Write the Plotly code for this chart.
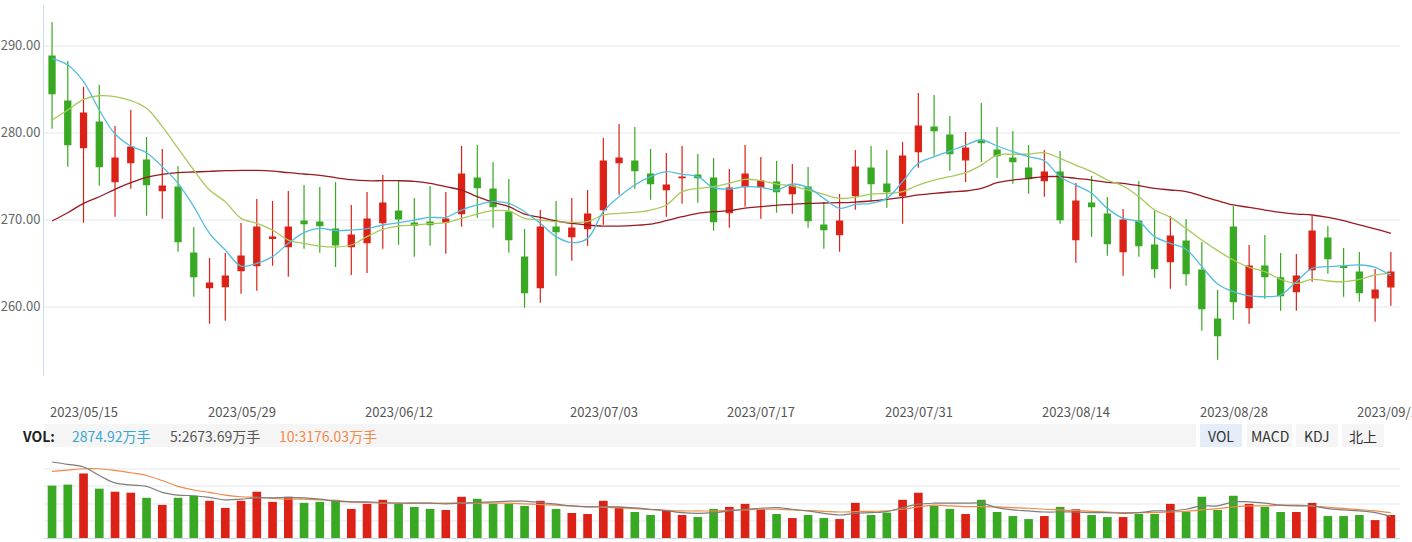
import plotly.graph_objects as go
import pandas as pd

W, H = 1412, 542

# ---------------- data ----------------
dates = [d.strftime("%Y/%m/%d") for d in pd.bdate_range("2023-05-15", "2023-09-13")
         if d.strftime("%m-%d") not in ("06-22", "06-23")]

opens = [288.81, 283.64, 278.28, 281.23, 274.37, 276.55, 276.86, 273.33, 273.75, 266.17,
         262.18, 262.30, 264.14, 264.71, 267.85, 266.90, 269.85, 269.73, 268.93, 266.90,
         267.36, 269.66, 271.00, 269.62, 269.73, 269.73, 270.69, 274.79, 273.52, 270.88,
         265.71, 262.18, 269.16, 268.05, 268.97, 271.15, 276.55, 276.74, 275.25, 273.45,
         274.83, 275.13, 274.79, 270.80, 273.79, 273.79, 274.33, 272.99, 273.75, 269.39,
         268.28, 272.76, 275.94, 274.10, 272.76, 277.82, 280.65, 279.73, 276.88, 279.16,
         278.01, 277.09, 275.94, 274.48, 275.48, 267.70, 271.92, 270.65, 266.32, 269.85,
         267.09, 265.17, 267.55, 264.21, 258.58, 269.16, 259.89, 264.67, 263.30, 261.72,
         264.25, 267.89, 264.60, 263.98, 261.02, 262.28]
closes = [284.48, 278.62, 282.26, 276.09, 277.09, 278.35, 274.02, 273.87, 267.47, 263.45,
          262.72, 263.52, 265.82, 269.16, 268.00, 269.16, 269.54, 269.31, 267.09, 268.24,
          270.08, 271.92, 270.08, 269.35, 269.43, 270.08, 275.25, 273.68, 271.49, 267.70,
          261.61, 269.16, 268.62, 269.04, 270.65, 276.74, 277.09, 275.63, 274.14, 273.98,
          274.90, 274.83, 269.77, 273.64, 275.25, 274.44, 273.22, 273.87, 269.89, 268.85,
          269.85, 276.05, 274.14, 273.22, 277.32, 280.77, 280.23, 277.59, 278.24, 278.85,
          277.36, 276.67, 274.71, 275.48, 270.00, 272.15, 271.49, 267.24, 269.96, 267.01,
          264.37, 268.12, 263.79, 259.77, 256.67, 260.57, 264.67, 263.45, 261.26, 263.52,
          268.70, 265.52, 264.52, 261.61, 261.90, 263.97]
highs = [292.72, 288.24, 285.29, 285.48, 280.77, 282.61, 279.50, 278.12, 276.17, 269.16,
         265.59, 266.17, 269.62, 272.38, 272.15, 273.30, 273.98, 273.75, 274.33, 271.69,
         273.18, 275.13, 274.52, 272.49, 273.87, 273.18, 278.47, 278.58, 276.63, 274.67,
         268.93, 271.11, 272.15, 272.49, 273.41, 279.39, 281.00, 280.65, 278.12, 277.66,
         278.47, 277.55, 277.09, 275.82, 278.58, 277.20, 276.74, 276.40, 276.05, 272.03,
         272.95, 278.01, 278.47, 278.01, 278.93, 284.56, 284.33, 281.92, 280.08, 283.41,
         280.65, 280.19, 278.58, 278.01, 277.89, 274.21, 275.02, 272.61, 271.23, 274.44,
         271.00, 270.42, 270.08, 267.43, 261.92, 271.57, 267.09, 268.24, 266.17, 266.05,
         270.42, 269.27, 266.74, 266.28, 264.33, 266.28]
lows = [280.46, 276.09, 269.66, 273.91, 270.34, 273.56, 270.46, 270.11, 266.32, 261.15,
        258.05, 258.39, 261.49, 261.84, 264.71, 263.45, 266.67, 266.21, 264.56, 263.64,
        263.87, 266.67, 267.13, 265.75, 267.01, 266.09, 269.20, 270.23, 269.08, 266.21,
        259.89, 260.46, 263.56, 265.29, 267.01, 269.43, 272.87, 273.56, 272.30, 270.34,
        271.84, 271.95, 268.74, 269.08, 271.49, 270.11, 270.80, 270.69, 269.08, 266.67,
        266.32, 271.15, 272.18, 271.38, 269.54, 275.98, 277.36, 275.63, 274.33, 276.63,
        274.79, 274.14, 272.99, 272.64, 269.54, 265.06, 268.05, 265.86, 263.56, 265.75,
        263.33, 262.07, 262.41, 257.24, 253.91, 258.51, 258.05, 260.92, 259.54, 259.54,
        262.87, 263.79, 261.15, 260.57, 258.28, 260.11]

ma5 = [288.51, 287.78, 285.86, 282.61, 279.85, 278.47, 277.70, 276.09, 274.18, 271.49,
       268.43, 266.51, 264.67, 264.98, 265.75, 267.28, 268.51, 269.00, 268.74, 268.81,
       268.97, 269.39, 269.66, 269.96, 270.27, 270.27, 271.11, 271.69, 272.07, 271.88,
       270.92, 269.58, 268.05, 267.36, 267.85, 270.92, 272.64, 273.98, 274.94, 275.52,
       275.21, 274.94, 273.68, 273.52, 273.79, 273.72, 273.41, 274.10, 273.68, 272.45,
       271.30, 271.76, 271.88, 272.45, 274.37, 276.48, 277.24, 277.89, 278.58, 279.16,
       278.47, 277.82, 277.24, 276.78, 274.94, 273.98, 273.03, 271.30, 270.15, 269.77,
       268.05, 267.28, 266.60, 264.60, 262.61, 261.72, 261.23, 261.15, 261.34, 262.87,
       264.41, 264.60, 264.71, 264.79, 264.52, 263.56]
ma10 = [281.46, 282.61, 283.83, 284.25, 284.14, 283.68, 282.80, 280.69, 278.20, 275.71,
        273.41, 272.07, 270.15, 269.58, 268.81, 267.66, 267.28, 266.97, 266.86, 267.09,
        268.05, 268.89, 269.27, 269.39, 269.54, 269.66, 270.15, 270.65, 271.03, 271.00,
        270.15, 269.96, 269.77, 269.69, 269.77, 270.54, 270.73, 270.84, 271.11, 271.69,
        273.22, 273.60, 273.79, 274.18, 274.64, 274.48, 274.10, 273.87, 273.41, 272.91,
        272.45, 272.57, 272.95, 273.03, 273.22, 273.98, 274.56, 274.94, 275.40, 276.28,
        277.43, 277.51, 277.55, 277.70, 277.05, 276.28, 275.52, 274.56, 273.87, 272.64,
        271.11, 270.27, 269.00, 267.66, 266.44, 265.36, 264.52, 264.02, 263.14, 262.68,
        263.14, 262.95, 262.87, 263.14, 263.64, 263.83]
ma30 = [269.85, 270.80, 271.88, 272.64, 273.49, 274.25, 274.87, 275.21, 275.40, 275.48,
        275.56, 275.63, 275.67, 275.67, 275.59, 275.40, 275.25, 275.10, 274.83, 274.60,
        274.48, 274.48, 274.48, 274.41, 274.18, 273.79, 273.41, 272.64, 271.99, 271.49,
        270.65, 270.27, 269.85, 269.58, 269.39, 269.27, 269.27, 269.35, 269.50, 269.89,
        270.34, 270.73, 270.92, 271.03, 271.34, 271.49, 271.65, 271.76, 271.88, 271.92,
        271.95, 272.03, 272.15, 272.34, 272.57, 272.84, 273.03, 273.18, 273.30, 273.60,
        274.25, 274.56, 274.75, 274.94, 274.94, 274.75, 274.56, 274.29, 274.18, 273.91,
        273.60, 273.41, 273.22, 272.72, 272.18, 271.69, 271.42, 271.11, 270.84, 270.65,
        270.54, 270.27, 269.89, 269.39, 268.93, 268.43]

# volume, 万手
vol = [6553, 6680, 8075, 6173, 5792, 5665, 5031, 4143, 5031, 5285,
       4650, 3763, 4650, 5792, 4524, 5158, 4397, 4524, 4778, 3636,
       4270, 4778, 4270, 3890, 3636, 3509, 5158, 4904, 4270, 4270,
       4016, 4650, 3636, 3129, 3002, 4650, 3890, 3256, 2875, 3382,
       2875, 2621, 3636, 3890, 4270, 3594, 3002, 2495, 2875, 2495,
       2368, 4397, 2875, 3171, 4778, 5665, 4016, 3636, 3002, 4778,
       3256, 2748, 2368, 2748, 3890, 3594, 2875, 2621, 2621, 3002,
       3002, 4270, 3298, 5158, 3509, 5285, 4270, 3890, 3256, 3256,
       4397, 2748, 2748, 2875, 2241, 2874.92]
vol_ma5 = [9513, 9217, 8879, 7822, 6892, 6638, 6469, 5708, 5370, 5285,
           5074, 4778, 4862, 5031, 5031, 5074, 5031, 4862, 4609, 4524,
           4524, 4439, 4355, 4355, 4355, 4270, 4355, 4439, 4524, 4609,
           4609, 4439, 4228, 4017, 3890, 3932, 3890, 3763, 3594, 3425,
           3171, 3086, 3171, 3382, 3594, 3721, 3805, 3594, 3382, 3086,
           2875, 3086, 3171, 3298, 3805, 4228, 4355, 4355, 4355, 4355,
           3805, 3509, 3382, 3256, 3256, 3256, 3171, 3171, 3086, 3171,
           3382, 3382, 3594, 4017, 4017, 4524, 4524, 4355, 4101, 4017,
           4017, 3678, 3509, 3382, 3171, 2673.69]
vol_ma10 = [8329, 8498, 8667, 8667, 8456, 8160, 7822, 7188, 6469, 6004,
            5708, 5370, 5158, 5074, 4947, 4862, 4862, 4778, 4693, 4524,
            4439, 4355, 4355, 4355, 4355, 4355, 4355, 4355, 4355, 4355,
            4270, 4186, 4101, 4017, 3932, 3847, 3763, 3678, 3552, 3467,
            3382, 3382, 3382, 3467, 3509, 3594, 3594, 3509, 3425, 3340,
            3256, 3298, 3340, 3382, 3594, 3890, 4101, 4017, 3932, 3932,
            3890, 3805, 3721, 3594, 3509, 3425, 3340, 3256, 3171, 3171,
            3171, 3256, 3340, 3509, 3678, 3890, 4017, 4017, 4101, 4101,
            4000, 3850, 3700, 3550, 3400, 3176.03]

label_idx = [0, 10, 20, 33, 43, 53, 63, 73, 83]
price_ticks = [260, 270, 280, 290]

UP, DOWN = "#dc2116", "#39a923"
FONT = "Noto Sans CJK SC, Noto Sans, sans-serif"

def py(p):  # pixel row -> paper y
    return 1 - p / H

def px(p):  # pixel col -> paper x
    return p / W

x = list(range(len(dates)))
vol_colors = [UP if c >= o else DOWN for o, c in zip(opens, closes)]

fig = go.Figure()
fig.add_trace(go.Candlestick(
    x=x, open=opens, high=highs, low=lows, close=closes,
    increasing=dict(line=dict(color=UP, width=1.2), fillcolor=UP),
    decreasing=dict(line=dict(color=DOWN, width=1.2), fillcolor=DOWN),
    whiskerwidth=0, showlegend=False, xaxis="x", yaxis="y"))
for vals, col in [(ma30, "#9a1a22"), (ma10, "#a8c95a"), (ma5, "#52bde0")]:
    fig.add_trace(go.Scatter(x=x, y=vals, mode="lines", line=dict(color=col, width=1.3, shape="spline"),
                             showlegend=False, xaxis="x", yaxis="y"))

fig.add_trace(go.Bar(x=x, y=vol, marker=dict(color=vol_colors, line=dict(width=0)),
                     width=0.55, showlegend=False, xaxis="x2", yaxis="y2"))
fig.add_trace(go.Scatter(x=x, y=vol_ma10, mode="lines", line=dict(color="#f0894a", width=1.2, shape="spline"),
                         showlegend=False, xaxis="x2", yaxis="y2"))
fig.add_trace(go.Scatter(x=x, y=vol_ma5, mode="lines", line=dict(color="#7d7d7d", width=1.2, shape="spline"),
                         showlegend=False, xaxis="x2", yaxis="y2"))

xr = [-0.51, 85.58]
xdom = [px(44), px(1400)]
fig.update_layout(
    width=W, height=H, margin=dict(l=0, r=0, t=0, b=0),
    paper_bgcolor="white", plot_bgcolor="white",
    font=dict(family=FONT, size=12, color="#555"),
    boxgap=0.45,
    xaxis=dict(domain=xdom, range=xr, showgrid=False, showticklabels=False, zeroline=False,
               rangeslider=dict(visible=False), showline=False, anchor="y"),
    yaxis=dict(domain=[py(376), py(5)], range=[252.03, 294.68], tickvals=price_ticks,
               ticktext=[f"{v:.2f}" for v in price_ticks], tickfont=dict(size=13, color="#666"),
               showgrid=True, gridcolor="#f1f3f6", gridwidth=1.5, zeroline=False,
               showline=True, linecolor="#c5d9ef", linewidth=1, ticks="", anchor="x"),
    xaxis2=dict(domain=xdom, range=xr, showgrid=False, showticklabels=False, zeroline=False,
                showline=True, linecolor="#c5d9ef", linewidth=1, anchor="y2"),
    yaxis2=dict(domain=[py(538), py(452)], range=[0, 10760], dtick=2152, showticklabels=False,
                showgrid=True, gridcolor="#f1f3f6", gridwidth=1.5, zeroline=False, showline=False,
                ticks="", anchor="x2"),
    hovermode=False,
)

ann = []
for i in label_idx:
    ann.append(dict(x=i, xref="x", y=py(411), yref="paper", text=dates[i], showarrow=False,
                    xanchor="left", yanchor="middle", xshift=-4,
                    font=dict(size=13, color="#555", family=FONT)))

shapes = [dict(type="rect", xref="paper", yref="paper", x0=px(44), x1=px(1196), y0=py(447), y1=py(424),
               fillcolor="#f5f5f5", line=dict(width=0), layer="below")]
buttons = [("VOL", 1200, 1242, "#e4edf8"), ("MACD", 1247, 1292, "#f5f5f5"),
           ("KDJ", 1296, 1338, "#f5f5f5"), ("北上", 1342, 1384, "#f5f5f5")]
for label, a, b, bg in buttons:
    shapes.append(dict(type="rect", xref="paper", yref="paper", x0=px(a), x1=px(b), y0=py(447), y1=py(424),
                       fillcolor=bg, line=dict(width=0), layer="below"))
    ann.append(dict(x=px((a + b) / 2), xref="paper", y=py(435.5), yref="paper", text=label, showarrow=False,
                    xanchor="center", yanchor="middle", font=dict(size=14, color="#333", family=FONT)))

ann.append(dict(x=px(20), xref="paper", y=py(435.5), yref="paper", text="<b>VOL:</b>", showarrow=False,
                xanchor="left", yanchor="middle", font=dict(size=14, color="#222", family=FONT)))
ann.append(dict(x=px(70), xref="paper", y=py(435.5), yref="paper", text=f"{vol[-1]:.2f}万手", showarrow=False,
                xanchor="left", yanchor="middle", font=dict(size=14, color="#3ba7d0", family=FONT)))
ann.append(dict(x=px(168), xref="paper", y=py(435.5), yref="paper", text=f"5:{vol_ma5[-1]:.2f}万手",
                showarrow=False, xanchor="left", yanchor="middle", font=dict(size=14, color="#555", family=FONT)))
ann.append(dict(x=px(277), xref="paper", y=py(435.5), yref="paper", text=f"10:{vol_ma10[-1]:.2f}万手",
                showarrow=False, xanchor="left", yanchor="middle", font=dict(size=14, color="#f0894a", family=FONT)))

fig.update_layout(annotations=ann, shapes=shapes)
fig.write_html("out.html", include_plotlyjs=True, config={"displayModeBar": False})
